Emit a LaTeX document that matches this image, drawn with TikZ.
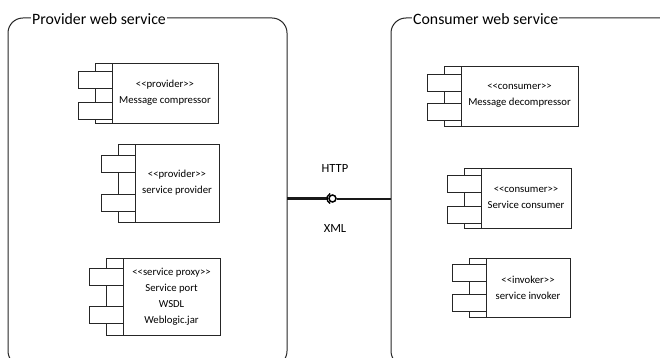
\documentclass[tikz,border=0pt]{standalone}
\usepackage{fontspec}
\setmainfont{Carlito}[Ligatures=TeXOff]
\tikzset{
  frameline/.style={draw=black!85, line width=1pt, rounded corners=15pt},
  frametitle/.style={fill=white, inner sep=1pt, anchor=base west, font=\fontsize{15.8}{18}\selectfont},
  compbox/.style={draw=black!85, line width=0.9pt, fill=white, align=center, inner sep=0pt,
    font=\fontsize{10.7}{16}\selectfont},
  compline/.style={draw=black!85, line width=0.9pt, fill=white},
  linklabel/.style={font=\fontsize{12.5}{14}\selectfont},
}
% UML component: name, left, top, right, bottom, first tab top, second tab top, text
\newcommand\umlcomp[8]{%
  \draw[compline] ({#2-17},#3) rectangle (#2,#5);
  \draw[compline] ({#2-34},#6) rectangle (#2,{#6+17});
  \draw[compline] ({#2-34},#7) rectangle (#2,{#7+17});
  \pgfmathsetmacro\compw{#4-#2}%
  \pgfmathsetmacro\comph{#5-#3}%
  \node[compbox, minimum width=\compw pt, minimum height=\comph pt] (#1)
    at ({(#2+#4)/2},{(#3+#5)/2}) {#8};
}
\begin{document}
\begin{tikzpicture}[x=1pt,y=-1pt]
\useasboundingbox (0,0) rectangle (660,358);
\fill[white] (0,0) rectangle (660,358);
\begin{scope}
\clip (0,0) rectangle (660,358);

% the two web service frames
\draw[frameline] (8,18) rectangle (287,366);
\draw[frameline] (391,18) rectangle (690,366);
\node[frametitle] (provtitle) at (31,24.5) {Provider web service};
\node[frametitle] (constitle) at (412,24.5) {Consumer web service};

% provider components
\umlcomp{compressor}{112}{63}{218}{123}{71}{102}{<<provider>>\\Message compressor}
\umlcomp{provider}{135}{144}{219}{222}{155}{194}{<<provider>>\\service provider}
\umlcomp{proxy}{123}{258}{220}{335}{268}{306}{<<service proxy>>\\Service port\\WSDL\\Weblogic.jar}

% consumer components
\umlcomp{decompressor}{461}{66}{578}{126}{74}{103}{<<consumer>>\\Message decompressor}
\umlcomp{consumer}{481}{168}{571}{228}{175}{206}{<<consumer>>\\Service consumer}
\umlcomp{invoker}{486}{258}{570}{317}{264}{294}{<<invoker>>\\service invoker}

% assembly connector between the frames
\coordinate (pout) at (287,198.5);
\coordinate (cin) at (391,198.5);
\node[circle, draw=black, line width=1.5pt, minimum size=7pt, inner sep=0pt] (ball) at (332.5,198.5) {};
\coordinate (sock) at ([xshift=-5.5pt]ball.center);
\draw[line width=3pt, black!90] (pout) -- (sock);
\draw[line width=1.4pt] (ball.center) ++(115:5.5pt) arc[start angle=115, end angle=245, radius=5.5pt];
\draw[line width=2pt, black!90] (ball.east) -- (cin);
\node[linklabel] (http) at (335,168) {HTTP};
\node[linklabel] (xml) at (335,228) {XML};
\end{scope}
\end{tikzpicture}
\end{document}
